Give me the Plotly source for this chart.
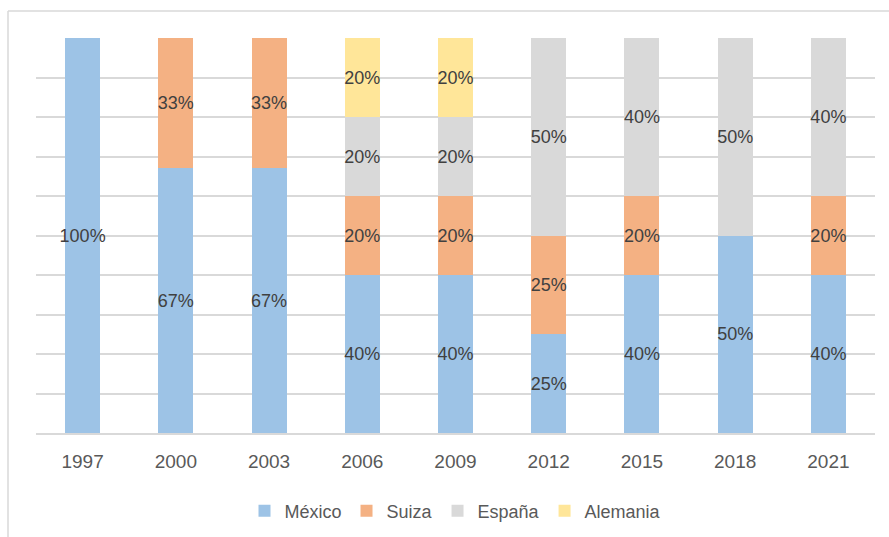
import plotly.graph_objects as go

years = ["1997", "2000", "2003", "2006", "2009", "2012", "2015", "2018", "2021"]
mexico = [100, 67, 67, 40, 40, 25, 40, 50, 40]
suiza = [0, 33, 33, 20, 20, 25, 20, 0, 20]
espana = [0, 0, 0, 20, 20, 50, 40, 50, 40]
alemania = [0, 0, 0, 20, 20, 0, 0, 0, 0]

series = [
    ("México", mexico, "#9DC3E6"),
    ("Suiza", suiza, "#F4B183"),
    ("España", espana, "#D9D9D9"),
    ("Alemania", alemania, "#FFE699"),
]

FONT = "Liberation Sans, Arial, sans-serif"

fig = go.Figure()
for name, vals, color in series:
    fig.add_trace(go.Bar(
        x=years, y=vals, name=name,
        marker=dict(color=color, line=dict(width=0)),
        text=[f"{v}%" if v > 0 else "" for v in vals],
        textposition="inside", insidetextanchor="middle", textangle=0,
        textfont=dict(color="#404040", size=18, family=FONT),
        cliponaxis=False,
        hoverinfo="skip",
    ))

L, R, T, B = 36, 14, 38, 104
W, H = 889, 537
pw, ph = W - L - R, H - T - B

fig.update_layout(
    barmode="stack",
    bargap=0.625,
    width=W, height=H,
    margin=dict(l=L, r=R, t=T, b=B, autoexpand=False),
    paper_bgcolor="white", plot_bgcolor="white",
    uniformtext=dict(mode="show", minsize=18),
    font=dict(family=FONT, color="#595959", size=18),
    xaxis=dict(showgrid=False, showline=True, linecolor="#D9D9D9", linewidth=1.5,
               ticks="", ticklabelstandoff=10, tickfont=dict(size=19, color="#595959"),
               automargin=False),
    yaxis=dict(range=[0, 100], dtick=10, showgrid=True, gridcolor="#D9D9D9", gridwidth=1.5,
               showticklabels=False, zeroline=False, showline=False),
    legend=dict(orientation="h", x=0.5, xanchor="center", yref="container",
                y=1 - 511 / H, yanchor="middle",
                font=dict(size=18, color="#595959"), traceorder="normal",
                itemwidth=30),
    showlegend=True,
)

# chart border (top and left edges)
fig.add_shape(type="line", xref="paper", yref="paper",
              x0=(8 - L) / pw, x1=(W - L) / pw, y0=1 + (T - 11) / ph, y1=1 + (T - 11) / ph,
              line=dict(color="#D9D9D9", width=1.5))
fig.add_shape(type="line", xref="paper", yref="paper",
              x0=(8 - L) / pw, x1=(8 - L) / pw, y0=1 + (T - 11) / ph, y1=-(B) / ph,
              line=dict(color="#D9D9D9", width=1.5))

fig.write_html("out.html", config={"displayModeBar": False},
               post_script="document.body.style.margin='0';document.body.style.overflow='hidden';")
